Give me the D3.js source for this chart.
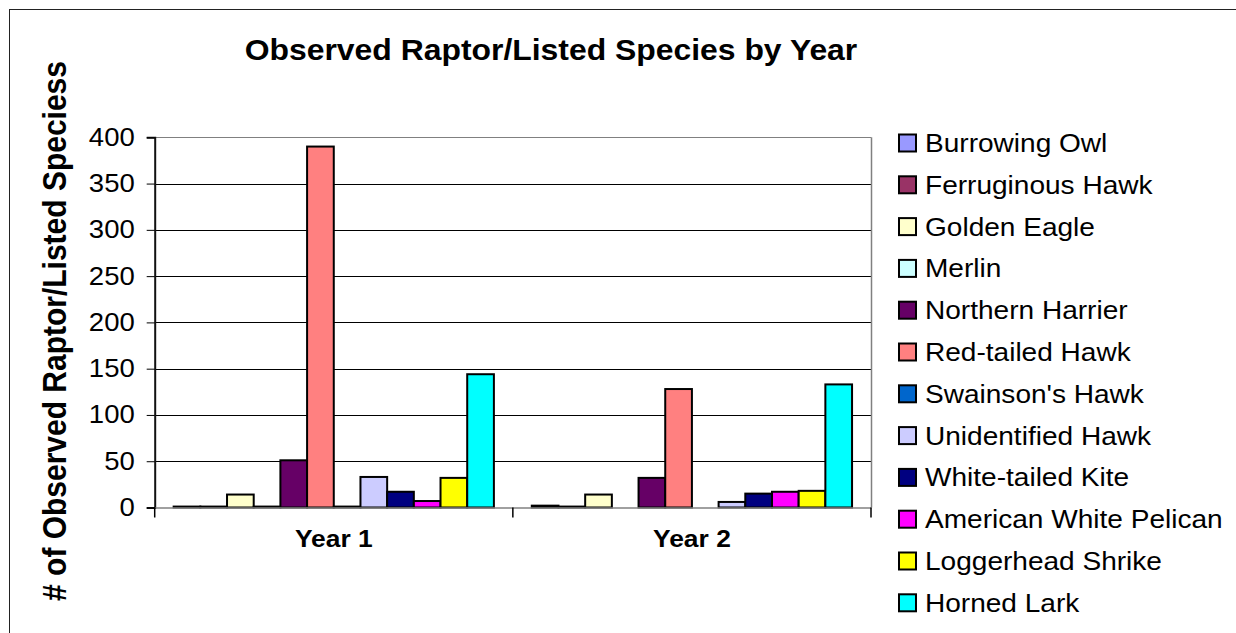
<!DOCTYPE html>
<html>
<head>
<meta charset="utf-8">
<script src="https://cdn.jsdelivr.net/npm/d3@7"></script>
<style>
  html, body { margin: 0; padding: 0; background: #fff; }
  svg { display: block; font-family: "Liberation Sans", Arial, sans-serif; }
</style>
</head>
<body>
<svg id="chart" width="1236" height="633"></svg>
<script>
// Survey years along the x axis
const years = ["Year 1", "Year 2"];

// Species observed (one series each)
const species = [
  "Burrowing Owl", "Ferruginous Hawk", "Golden Eagle", "Merlin",
  "Northern Harrier", "Red-tailed Hawk", "Swainson's Hawk", "Unidentified Hawk",
  "White-tailed Kite", "American White Pelican", "Loggerhead Shrike", "Horned Lark"
];

// Counts per species, [Year 1, Year 2]
const burrowingOwl = [1, 2];
const ferruginousHawk = [1, 1];
const goldenEagle = [14, 14];
const merlin = [1, 0];
const northernHarrier = [51, 32];
const redTailedHawk = [390, 128];
const swainsonsHawk = [1, 0];
const unidentifiedHawk = [33, 6];
const whiteTailedKite = [17, 15];
const americanWhitePelican = [7, 17];
const loggerheadShrike = [32, 18];
const hornedLark = [144, 133];

const seriesValues = [
  burrowingOwl, ferruginousHawk, goldenEagle, merlin, northernHarrier, redTailedHawk,
  swainsonsHawk, unidentifiedHawk, whiteTailedKite, americanWhitePelican, loggerheadShrike, hornedLark
];

const seriesColors = [
  "#9999FF", "#993366", "#FFFFCC", "#CCFFFF", "#660066", "#FF8080",
  "#0066CC", "#CCCCFF", "#000080", "#FF00FF", "#FFFF00", "#00FFFF"
];

const yTicks = [0, 50, 100, 150, 200, 250, 300, 350, 400];

const titleText = "Observed Raptor/Listed Species by Year";
const yTitleText = "# of Observed Raptor/Listed Speciess";

// ---- layout ----
const plot = { left: 154.7, right: 871, top: 137.3, bottom: 507.5 };
const SX = 1.1; // horizontal text stretch

const svg = d3.select("#chart");

// outer frame
svg.append("rect")
  .attr("x", 9.5).attr("y", 9.5)
  .attr("width", 1300).attr("height", 700)
  .attr("fill", "#fff").attr("stroke", "#222").attr("stroke-width", 1);

const x0 = d3.scaleBand().domain(years).range([plot.left, plot.right]).padding(0);
const x1 = d3.scaleBand().domain(species).range([0, x0.bandwidth()])
  .paddingInner(0).paddingOuter(0.71).align(0.5);
const y = d3.scaleLinear().domain([0, 400]).range([plot.bottom, plot.top]);

// gridlines
svg.append("g").selectAll("line")
  .data(yTicks.filter(d => d > 0))
  .join("line")
  .attr("x1", plot.left).attr("x2", plot.right)
  .attr("y1", d => Math.round(y(d)) + 0.5).attr("y2", d => Math.round(y(d)) + 0.5)
  .attr("stroke", d => d === 400 ? "#808080" : "#000").attr("stroke-width", 1);

// plot-area right border
svg.append("line")
  .attr("x1", plot.right + 0.5).attr("x2", plot.right + 0.5)
  .attr("y1", plot.top).attr("y2", plot.bottom)
  .attr("stroke", "#808080").attr("stroke-width", 1.5);

// bars
const groups = svg.append("g").selectAll("g")
  .data(years)
  .join("g")
  .attr("transform", d => `translate(${x0(d)},0)`);

groups.selectAll("rect")
  .data((yr, yi) => species.map((s, si) => ({ s, si, v: seriesValues[si][yi] })))
  .join("rect")
  .attr("x", d => x1(d.s))
  .attr("y", d => y(d.v))
  .attr("width", x1.bandwidth())
  .attr("height", d => y(0) - y(d.v))
  .attr("fill", d => seriesColors[d.si])
  .attr("stroke", "#000").attr("stroke-width", 2);

// y axis
const yAxis = d3.axisLeft(y).tickValues(yTicks).tickSize(8).tickPadding(12);
const yg = svg.append("g").attr("transform", `translate(${plot.left},0)`).call(yAxis);
yg.select(".domain").attr("stroke", "#111").attr("stroke-width", 2);
yg.selectAll(".tick line").attr("stroke", "#000").attr("stroke-width", 1);
yg.selectAll(".tick text")
  .attr("font-size", 25).attr("fill", "#000")
  .attr("font-family", "Liberation Sans, Arial, sans-serif")
  .attr("transform", `scale(${SX},1)`)
  .attr("x", -20 / SX);

// x axis
const xAxis = d3.axisBottom(x0).tickSize(0).tickPadding(22);
const xg = svg.append("g").attr("transform", `translate(0,${plot.bottom})`).call(xAxis);
xg.select(".domain").attr("stroke", "#808080").attr("stroke-width", 1.5);
xg.selectAll(".tick text")
  .attr("font-size", 24).attr("font-weight", "bold").attr("fill", "#000")
  .attr("font-family", "Liberation Sans, Arial, sans-serif")
  .attr("transform", `scale(${SX},1)`);
// category separators
svg.append("g").selectAll("line")
  .data([plot.left, x0("Year 2"), plot.right])
  .join("line")
  .attr("x1", d => d).attr("x2", d => d)
  .attr("y1", plot.bottom).attr("y2", plot.bottom + 10)
  .attr("stroke", "#000").attr("stroke-width", 1.5);

// title
svg.append("text")
  .attr("transform", `translate(551,60) scale(${SX},1)`)
  .attr("text-anchor", "middle")
  .attr("font-size", 29).attr("font-weight", "bold")
  .text(titleText);

// y title
svg.append("text")
  .attr("transform", `translate(66,331) rotate(-90) scale(1,${SX})`)
  .attr("text-anchor", "middle")
  .attr("font-size", 30).attr("font-weight", "bold")
  .text(yTitleText);

// legend
const legend = svg.append("g");
const rowY = i => 143 + i * 41.8;
legend.selectAll("rect")
  .data(species)
  .join("rect")
  .attr("x", 899).attr("y", (d, i) => rowY(i) - 8.5)
  .attr("width", 17).attr("height", 17)
  .attr("fill", (d, i) => seriesColors[i])
  .attr("stroke", "#000").attr("stroke-width", 2);
legend.selectAll("text")
  .data(species)
  .join("text")
  .attr("transform", (d, i) => `translate(925,${rowY(i) + 9}) scale(${SX},1)`)
  .attr("font-size", 25.5)
  .text(d => d);
</script>
</body>
</html>
